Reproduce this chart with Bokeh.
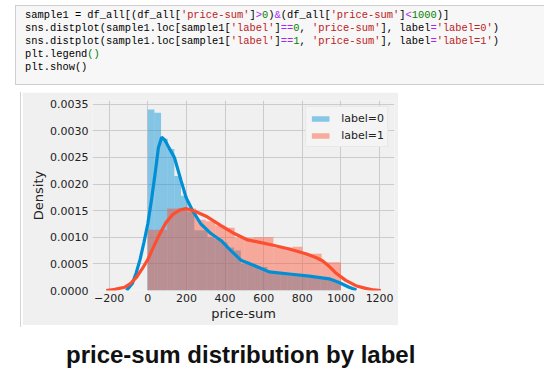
import numpy as np
from bokeh.plotting import figure
from bokeh.models import Div, FixedTicker, Legend, LegendItem
from bokeh.layouts import column
from bokeh.embed import file_html
from bokeh.resources import INLINE

# ---------------- data ----------------
# label=0 histogram: 29 bins of width ~34.4 starting at 0
blue_bin_start = 0.0
blue_bin_width = 34.4
blue_hist = [0.00340, 0.00334, 0.00285, 0.00266, 0.00215, 0.00178, 0.00148,
             0.00113, 0.00113, 0.00100, 0.00097, 0.00090, 0.00081, 0.00075,
             0.00050, 0.00049, 0.00046, 0.00044, 0.00033, 0.00031, 0.00031,
             0.00030, 0.00031, 0.00026, 0.00025, 0.00025, 0.00024, 0.00022,
             0.00015]
# label=1 histogram: 20 bins of width 50 starting at 0
red_bin_start = 0.0
red_bin_width = 50.0
red_hist = [0.00114, 0.00114, 0.00154, 0.00154, 0.00154, 0.00133, 0.00130,
            0.00122, 0.00118, 0.00099, 0.00099, 0.00100, 0.00100, 0.00081,
            0.00081, 0.00082, 0.00069, 0.00069, 0.00053, 0.00053]

# KDE curves
blue_kde_x = [-110, -80, -60, -40, -20, 0, 20, 40, 55, 72, 90, 110, 138, 172,
              198, 232, 275, 327, 379, 430, 482, 551, 628, 732, 835, 939, 990,
              1042, 1080]
blue_kde_y = [0.0, 0.00013, 0.00033, 0.00058, 0.00090, 0.00125, 0.00172,
              0.00225, 0.00268, 0.00288, 0.00282, 0.00268, 0.00250, 0.00207,
              0.00175, 0.00150, 0.00125, 0.00107, 0.00094, 0.00075, 0.00057,
              0.00047, 0.00035, 0.00031, 0.00027, 0.00022, 0.00015, 0.00006,
              0.00001]
red_kde_x = [-215, -170, -120, -90, -60, -30, 0, 30, 60, 95, 130, 165, 198,
             250, 310, 379, 448, 517, 586, 650, 732, 818, 870, 904, 940, 973,
             1025, 1077, 1128, 1170, 1206]
red_kde_y = [0.0, 0.00002, 0.00006, 0.00013, 0.00024, 0.00040, 0.00058,
             0.00082, 0.00105, 0.00128, 0.00143, 0.00151, 0.00154, 0.00148,
             0.00138, 0.00122, 0.00107, 0.00095, 0.00090, 0.00085, 0.00078,
             0.00069, 0.00062, 0.00056, 0.00045, 0.00033, 0.00019, 0.00009,
             0.00004, 0.00001, 0.0]

x_ticks = [-200, 0, 200, 400, 600, 800, 1000, 1200]
x_tick_labels = ["\u2212200", "0", "200", "400", "600", "800", "1000", "1200"]
y_ticks = [0.0, 0.0005, 0.0010, 0.0015, 0.0020, 0.0025, 0.0030, 0.0035]
y_tick_labels = ["0.0000", "0.0005", "0.0010", "0.0015", "0.0020", "0.0025",
                 "0.0030", "0.0035"]
legend_labels = ["label=0", "label=1"]
x_label = "price-sum"
y_label = "Density"
caption = "price-sum distribution by label"

BLUE = "#008fd5"
RED = "#fc4f30"
BG = "#f0f0f0"

# ---------------- code cell ----------------
def span(t, c):
    return '<span style="color:' + c + '">' + t + '</span>'
S = lambda t: span(t, "#ba2121")
O = lambda t: span(t, "#aa22ff")
N = lambda t: span(t, "#008000")
code_lines = [
    "sample1 = df_all[(df_all[" + S("'price-sum'") + "]" + O("&gt;") + N("0") + ")"
    + O("&amp;") + "(df_all[" + S("'price-sum'") + "]" + O("&lt;") + N("1000") + ")]",
    "sns.distplot(sample1.loc[sample1[" + S("'label'") + "]" + O("==") + N("0") + ", "
    + S("'price-sum'") + "], label" + O("=") + S("'label=0'") + ")",
    "sns.distplot(sample1.loc[sample1[" + S("'label'") + "]" + O("==") + N("1") + ", "
    + S("'price-sum'") + "], label" + O("=") + S("'label=1'") + ")",
    "plt.legend" + N("()"),
    "plt.show()",
]
line_divs = "".join('<div style="height:13px;line-height:13px;white-space:pre;">'
                    + ln + '</div>' for ln in code_lines)
code_html = ('<div style="box-sizing:border-box;width:529px;height:80px;'
             'background:#f7f7f7;border:1px solid #cfcfcf;border-right:none;'
             'padding:3px 0 0 9px;font-family:\'Liberation Mono\',monospace;'
             'font-size:10.4px;color:#000;">' + line_divs + '</div>')
code_div = Div(text=code_html, width=529, height=80, margin=(5, 0, 0, 15))

# ---------------- chart ----------------
p = figure(width=376, height=233, x_range=(-286, 1277), y_range=(0, 0.00357),
           output_backend="svg", toolbar_location=None,
           min_border_left=70, min_border_right=4, min_border_top=8,
           min_border_bottom=35, background_fill_color=BG,
           border_fill_color=BG, outline_line_color=None,
           margin=(7, 0, 0, 22))

bl = blue_bin_start + blue_bin_width * np.arange(len(blue_hist))
rl = red_bin_start + red_bin_width * np.arange(len(red_hist))
rb = p.quad(left=bl, right=bl + blue_bin_width, top=blue_hist, bottom=0,
            fill_color=BLUE, fill_alpha=0.45, line_color=None)
rr = p.quad(left=rl, right=rl + red_bin_width, top=red_hist, bottom=0,
            fill_color=RED, fill_alpha=0.45, line_color=None)
p.line(blue_kde_x, blue_kde_y, line_color=BLUE, line_width=3.2)
p.line(red_kde_x, red_kde_y, line_color=RED, line_width=3.2)

p.xaxis.ticker = FixedTicker(ticks=x_ticks)
p.yaxis.ticker = FixedTicker(ticks=y_ticks)
p.xaxis.major_label_overrides = dict(zip(x_ticks, x_tick_labels))
p.yaxis.major_label_overrides = dict(zip(y_ticks, y_tick_labels))
p.xgrid.ticker = FixedTicker(ticks=x_ticks)
p.ygrid.ticker = FixedTicker(ticks=y_ticks)
p.grid.grid_line_color = "#cbcbcb"
p.grid.grid_line_width = 1

for ax in (p.xaxis, p.yaxis):
    ax.axis_line_color = None
    ax.major_tick_line_color = None
    ax.minor_tick_line_color = None
    ax.major_tick_out = 0
    ax.major_tick_in = 0
    ax.minor_tick_out = 0
    ax.minor_tick_in = 0
    ax.major_label_text_font = "DejaVu Sans"
    ax.major_label_text_font_size = "11px"
    ax.major_label_text_color = "#222222"
    ax.axis_label_text_font = "DejaVu Sans"
    ax.axis_label_text_font_size = "13px"
    ax.axis_label_text_font_style = "normal"
    ax.axis_label_text_color = "#222222"
p.xaxis.axis_label = x_label
p.yaxis.axis_label = y_label
p.xaxis.major_label_standoff = 3
p.xaxis.axis_label_standoff = 1
p.yaxis.major_label_standoff = 4
p.yaxis.axis_label_standoff = 1

legend = Legend(items=[LegendItem(label=legend_labels[0], renderers=[rb]),
                       LegendItem(label=legend_labels[1], renderers=[rr])],
                location="top_right", glyph_width=22, glyph_height=7,
                label_standoff=10, padding=3, spacing=1, margin=6,
                label_height=16, label_text_font="DejaVu Sans",
                label_text_font_size="11px", label_text_color="#222222",
                background_fill_color="#f4f4f4", background_fill_alpha=1,
                border_line_color="#dcdcdc", border_line_width=1)
p.add_layout(legend)

cap_div = Div(text='<div style="position:relative;">'
                   '<div style="position:absolute;left:-46px;top:-251px;width:1px;'
                   'height:235px;background:#d4d4d4;"></div>'
                   '<div style="font-family:\'Liberation Sans\',Arial,sans-serif;'
                   'font-weight:bold;font-size:24px;line-height:24px;color:#111;'
                   'white-space:nowrap;">' + caption + '</div></div>',
              width=400, height=26, margin=(18, 0, 0, 66))

layout = column(code_div, p, cap_div)

open("out.html", "w").write(file_html(layout, INLINE))
